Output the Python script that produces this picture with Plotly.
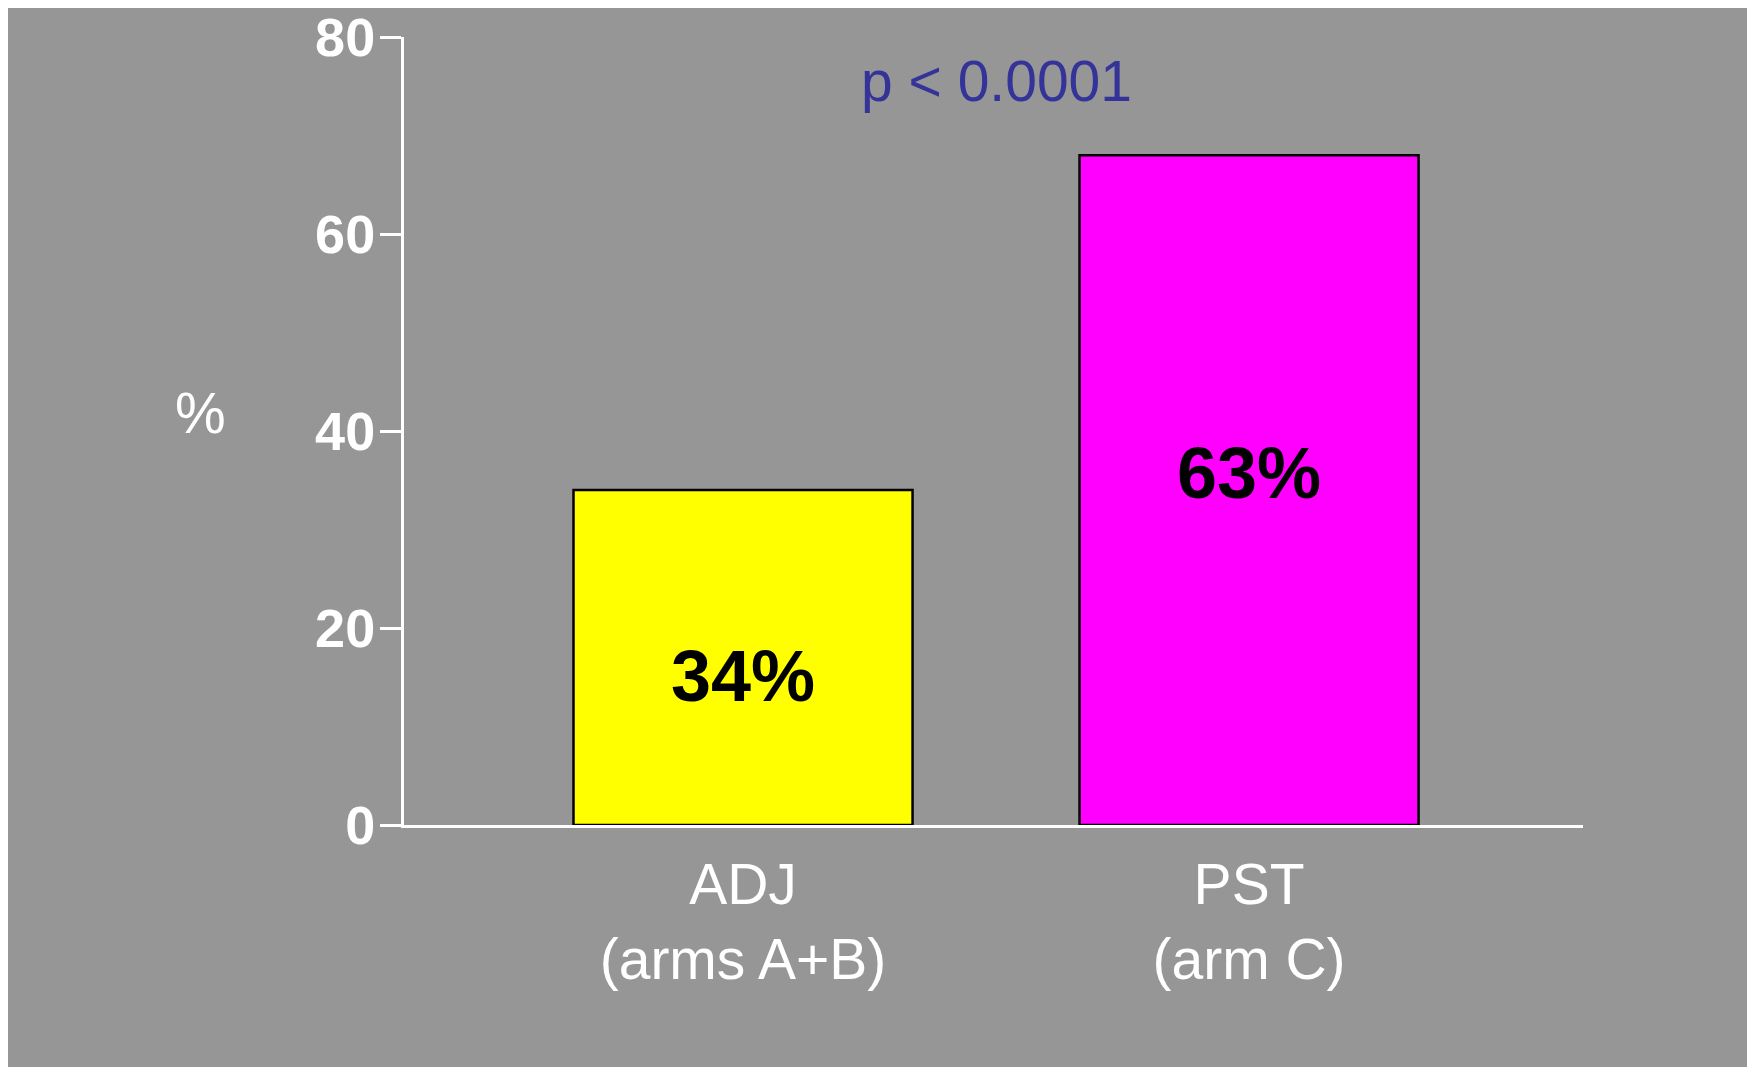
import plotly.graph_objects as go

# ---- data ----
categories = ["ADJ<br>(arms A+B)", "PST<br>(arm C)"]
values = [34, 68]
value_labels = ["34%", "63%"]
label_y = [15.1, 35.7]
bar_colors = ["#ffff00", "#ff00ff"]
y_ticks = [0, 20, 40, 60, 80]
p_text = "p < 0.0001"
y_title = "%"

# page body has an 8px margin; positions below are in page pixels
OFF = 8
W, H = 1755, 1067
L = 404 - OFF
T = 37 - OFF
bottom_px = 825 - OFF
right_px = 1583 - OFF
B = H - bottom_px
R = W - right_px
pw, ph = right_px - L, bottom_px - T
GRAY = "#969696"

def px2x(px):
    return (px - OFF - L) / pw

def py2y(py):
    return (bottom_px - (py - OFF)) / ph

fig = go.Figure()
fig.add_trace(go.Bar(
    x=categories, y=values,
    marker=dict(color=bar_colors, line=dict(color="black", width=2.5)),
    width=0.67,
    hoverinfo="skip",
))

annotations = []
for c, t, ly in zip(categories, value_labels, label_y):
    annotations.append(dict(
        x=c, y=ly, xref="x", yref="y", text=t, showarrow=False,
        font=dict(family="Liberation Sans, Arial", size=72, color="black", weight="bold"),
        xanchor="center", yanchor="middle",
    ))
annotations.append(dict(
    x=px2x(996), y=py2y(81), xref="paper", yref="paper", text=p_text, showarrow=False,
    font=dict(family="Liberation Sans, Arial", size=57, color="#333399"),
    xanchor="center", yanchor="middle",
))
annotations.append(dict(
    x=px2x(201), y=py2y(413), xref="paper", yref="paper", text=y_title, showarrow=False,
    font=dict(family="Liberation Sans, Arial", size=57, color="white"),
    xanchor="center", yanchor="middle",
))

fig.update_layout(
    width=W, height=H,
    margin=dict(l=L, r=R, t=T, b=B, pad=0, autoexpand=False),
    paper_bgcolor=GRAY,
    plot_bgcolor=GRAY,
    showlegend=False,
    annotations=annotations,
    xaxis=dict(
        range=[-0.67, 1.66],
        automargin=False,
        showgrid=False, zeroline=False,
        showline=True, linecolor="white", linewidth=3,
        ticks="", ticklabelstandoff=8,
        tickfont=dict(family="Liberation Sans, Arial", size=57, color="white"),
    ),
    yaxis=dict(
        range=[0, 80],
        automargin=False,
        tickvals=y_ticks,
        showgrid=False, zeroline=False,
        showline=True, linecolor="white", linewidth=3,
        ticks="outside", ticklen=21, tickwidth=3, tickcolor="white",
        ticklabelstandoff=-6, ticklabeloverflow="allow",
        tickfont=dict(family="Liberation Sans, Arial", size=54, color="white", weight="bold"),
    ),
)

fig.write_html("out.html")
